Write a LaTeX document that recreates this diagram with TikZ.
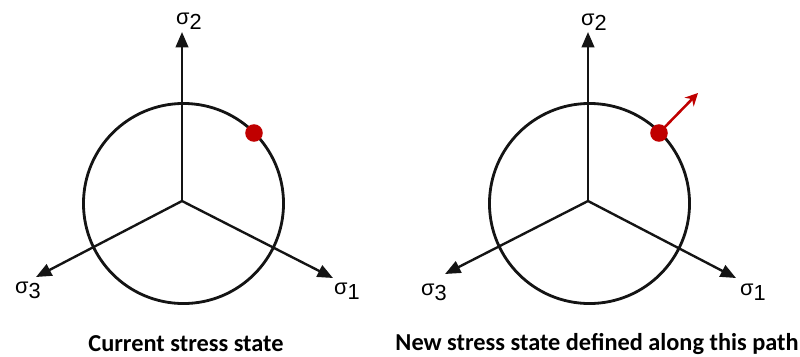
\documentclass[tikz,border=0pt]{standalone}
\usepackage{fontspec}
\setmainfont{Carlito}
\newfontfamily\sigfont{Liberation Sans}
\usetikzlibrary{arrows.meta, positioning}
\definecolor{myred}{RGB}{192,0,0}
\definecolor{mydark}{RGB}{20,20,20}
\newcommand{\sigsub}[1]{\raisebox{-0.45ex}{#1}}
\tikzset{
  axis/.style={-{Triangle[length=11pt, width=9pt]}, line width=1.7pt, color=mydark},
  ring/.style={circle, draw=mydark, line width=2pt, minimum size=5cm, inner sep=0pt},
  dot/.style={circle, fill=myred, minimum size=12.5pt, inner sep=0pt},
  redarrow/.style={-{Stealth[length=9pt, width=9pt]}, line width=1.8pt, color=myred},
  siglabel/.style={font=\sigfont\fontsize{15.5}{17}\selectfont, inner sep=0pt},
  caption/.style={font=\bfseries\fontsize{17.3}{20}\selectfont, inner sep=0pt}
}
\begin{document}
\begin{tikzpicture}[x=0.025cm, y=-0.025cm]
  \useasboundingbox (0,0) rectangle (800,356);

  % left: current stress state
  \coordinate (oA) at (182,201);
  \coordinate (tA2) at (182,32);
  \coordinate (tA1) at (333,278);
  \coordinate (tA3) at (36,277);
  \node[ring] (ringA) at (183.5,203.5) {};
  \draw[axis] (oA) -- (tA2);
  \draw[axis] (oA) -- (tA1);
  \draw[axis] (oA) -- (tA3);
  \node[siglabel] (lA2) at (189,21) {σ\sigsub{2}};
  \node[siglabel] (lA1) at (347,291) {σ\sigsub{1}};
  \node[siglabel] (lA3) at (28,290) {σ\sigsub{3}};
  \node[dot] (pA) at (254,133) {};
  \node[caption] (capA) at (186,344) {Current stress state};

  % right: new stress state along the path
  \coordinate (oB) at (588,201);
  \coordinate (tB2) at (588,32);
  \coordinate (tB1) at (736,278);
  \coordinate (tB3) at (445,274);
  \coordinate (tBr) at (698,93);
  \node[ring] (ringB) at (589.5,203.5) {};
  \draw[axis] (oB) -- (tB2);
  \draw[axis] (oB) -- (tB1);
  \draw[axis] (oB) -- (tB3);
  \node[siglabel] (lB2) at (594,22) {σ\sigsub{2}};
  \node[siglabel] (lB1) at (753,292) {σ\sigsub{1}};
  \node[siglabel] (lB3) at (434,292) {σ\sigsub{3}};
  \draw[redarrow] (659,133) -- (tBr);
  \node[dot] (pB) at (659,133) {};
  \node[caption] (capB) at (597,344) {New stress state defined along this path};
\end{tikzpicture}
\end{document}
